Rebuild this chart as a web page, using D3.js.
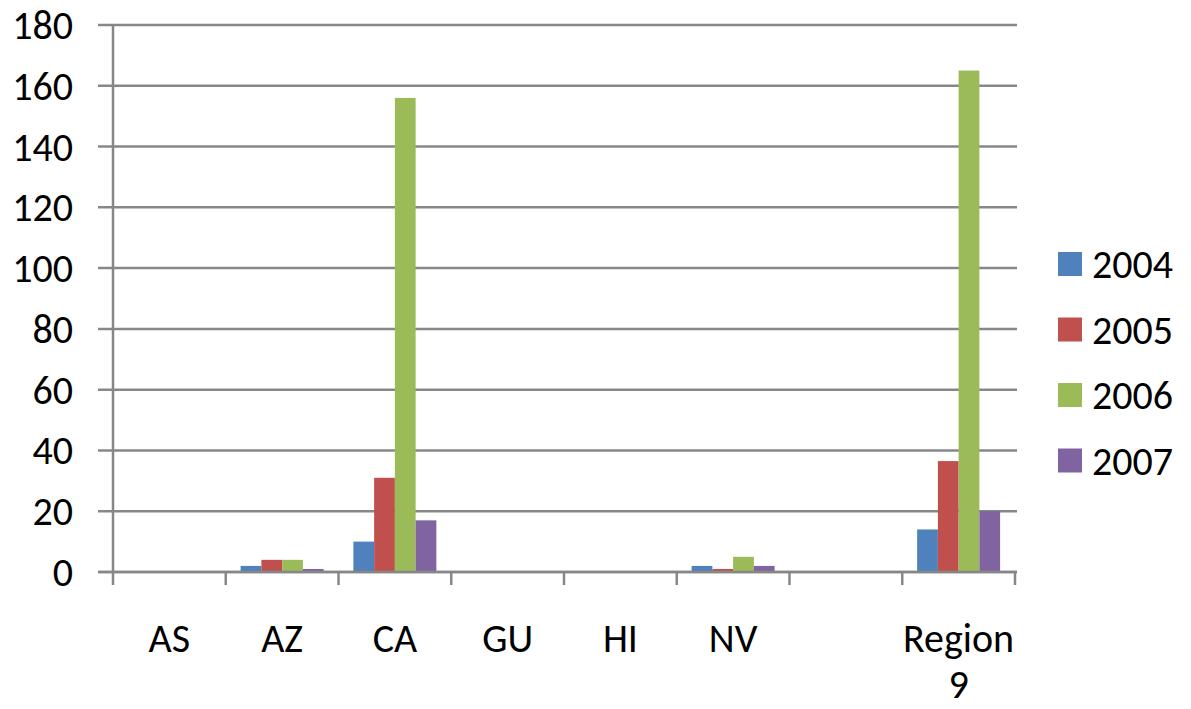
<!DOCTYPE html>
<html><head><meta charset="utf-8">
<script src="https://cdn.jsdelivr.net/npm/d3@7"></script>
<style>body{margin:0;background:#fff}svg{display:block}text{font-family:Carlito,Lato,"Open Sans",sans-serif;fill:#000}</style>
</head><body><svg id="c" width="1191" height="709"></svg>
<script>
const categories = ["AS","AZ","CA","GU","HI","NV","","Region 9"];
const seriesNames = ["2004","2005","2006","2007"];
const v2004 = [0, 2, 10, 0, 0, 2, 0, 14];
const v2005 = [0, 4, 31, 0, 0, 1, 0, 36.5];
const v2006 = [0, 4, 156, 0, 0, 5, 0, 165];
const v2007 = [0, 1, 17, 0, 0, 2, 0, 20];
const yTicks = [0,20,40,60,80,100,120,140,160,180];
const colors = ["#4F81BD","#C0504D","#9BBB59","#8064A2"];
const values = [v2004, v2005, v2006, v2007];

(function(){
const svg = d3.select("#c");
const pl = 113, pr = 1015, pt = 25, pb = 572;
const fs = 40;
const x0 = d3.scaleBand().domain(d3.range(categories.length)).range([pl, pr]);
const bw = x0.bandwidth();
const pad = bw * 0.132;
const x1 = d3.scaleBand().domain(d3.range(seriesNames.length)).range([pad, bw - pad]);
const y = d3.scaleLinear().domain([0, 180]).range([pb, pt]);
const grid = "#878787";

svg.append("g").selectAll("line").data(yTicks).join("line")
  .attr("x1", pl - 15).attr("x2", pr + 2)
  .attr("y1", d => y(d)).attr("y2", d => y(d))
  .attr("stroke", grid).attr("stroke-width", 2.5);

svg.append("g").selectAll("text").data(yTicks).join("text")
  .attr("x", 73).attr("y", d => y(d)).attr("dy", "0.35em")
  .attr("text-anchor", "end").attr("font-size", fs).text(d => d);

const gs = svg.append("g").selectAll("g").data(seriesNames).join("g")
  .attr("fill", (d,i) => colors[i]);
gs.selectAll("rect").data((d,i) => values[i].map((v,j) => ({v, j, i}))).join("rect")
  .attr("x", d => x0(d.j) + x1(d.i))
  .attr("width", x1.bandwidth())
  .attr("y", d => y(d.v))
  .attr("height", d => y(0) - y(d.v));

svg.append("line").attr("x1", pl).attr("x2", pl).attr("y1", pt).attr("y2", pb + 13)
  .attr("stroke", grid).attr("stroke-width", 2.5);
svg.append("line").attr("x1", pl - 15).attr("x2", pr + 2).attr("y1", pb).attr("y2", pb)
  .attr("stroke", grid).attr("stroke-width", 2.5);
svg.append("g").selectAll("line").data(d3.range(1, categories.length + 1)).join("line")
  .attr("x1", d => pl + d * bw).attr("x2", d => pl + d * bw)
  .attr("y1", pb).attr("y2", pb + 13)
  .attr("stroke", grid).attr("stroke-width", 2.5);

const xl = svg.append("g").selectAll("text").data(categories).join("text")
  .attr("text-anchor", "middle").attr("font-size", fs)
  .attr("x", (d,i) => x0(i) + bw / 2).attr("y", 652);
xl.each(function(d){
  const words = d.split(" ");
  const t = d3.select(this);
  words.forEach((w, k) => t.append("tspan").attr("x", t.attr("x")).attr("dy", k ? 46 : 0).text(w));
});

const lg = svg.append("g").selectAll("g").data(seriesNames).join("g")
  .attr("transform", (d,i) => `translate(1058, ${264 + i * 65.5})`);
lg.append("rect").attr("x", 0).attr("y", -12).attr("width", 24).attr("height", 24)
  .attr("fill", (d,i) => colors[i]);
lg.append("text").attr("x", 34).attr("y", 0).attr("dy", "0.36em").attr("font-size", fs).text(d => d);
})();
</script></body></html>
